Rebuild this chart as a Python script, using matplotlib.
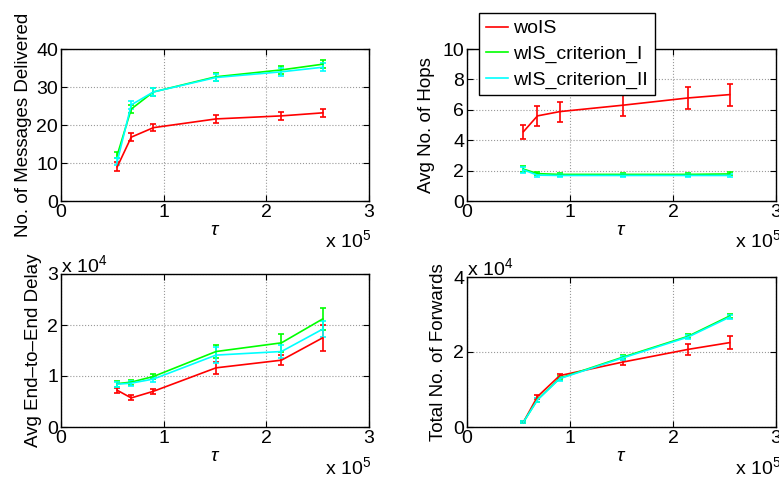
import numpy as np
import matplotlib
matplotlib.use("Agg")
import matplotlib.pyplot as plt

plt.rcParams['font.family'] = ['Liberation Sans', 'DejaVu Sans']
plt.rcParams['mathtext.fontset'] = 'custom'
plt.rcParams['mathtext.rm'] = 'Liberation Sans'
plt.rcParams['mathtext.it'] = 'Liberation Sans:italic'

# tau values (x 1e5)
tau = [0.548, 0.684, 0.90, 1.51, 2.147, 2.55]

series = ['woIS', 'wIS_criterion_I', 'wIS_criterion_II']
colors = ['#ff0000', '#00ff00', '#00ffff']

# No. of messages delivered
msg_red = [9.0, 16.8, 19.3, 21.6, 22.4, 23.2]
msg_red_err = [1.2, 1.0, 1.0, 1.0, 1.0, 1.1]
msg_green = [12.1, 24.2, 28.7, 32.7, 34.5, 36.0]
msg_green_err = [0.9, 1.0, 1.0, 1.0, 1.0, 1.0]
msg_cyan = [10.4, 25.3, 28.7, 32.5, 34.0, 35.2]
msg_cyan_err = [0.9, 1.0, 1.0, 1.0, 1.0, 1.0]

# avg no. of hops
hop_red = [4.56, 5.6, 5.88, 6.3, 6.78, 7.0]
hop_red_err = [0.45, 0.65, 0.65, 0.7, 0.75, 0.72]
hop_green = [2.1, 1.8, 1.75, 1.75, 1.75, 1.78]
hop_green_err = [0.2, 0.1, 0.1, 0.1, 0.1, 0.1]
hop_cyan = [2.05, 1.7, 1.68, 1.68, 1.68, 1.68]
hop_cyan_err = [0.2, 0.1, 0.1, 0.1, 0.1, 0.1]

# avg end-to-end delay (x 1e4)
dly_red = [0.72, 0.57, 0.70, 1.16, 1.31, 1.75]
dly_red_err = [0.05, 0.05, 0.05, 0.12, 0.1, 0.25]
dly_green = [0.85, 0.88, 0.99, 1.48, 1.65, 2.12]
dly_green_err = [0.06, 0.05, 0.05, 0.13, 0.18, 0.22]
dly_cyan = [0.84, 0.86, 0.94, 1.41, 1.48, 1.92]
dly_cyan_err = [0.05, 0.05, 0.05, 0.15, 0.12, 0.15]

# total no. of forwards (x 1e4)
fwd_red = [0.13, 0.81, 1.37, 1.73, 2.07, 2.25]
fwd_red_err = [0.03, 0.05, 0.05, 0.07, 0.15, 0.18]
fwd_green = [0.13, 0.73, 1.30, 1.86, 2.42, 2.96]
fwd_green_err = [0.03, 0.05, 0.05, 0.05, 0.05, 0.05]
fwd_cyan = [0.13, 0.72, 1.29, 1.84, 2.40, 2.93]
fwd_cyan_err = [0.03, 0.05, 0.05, 0.05, 0.05, 0.05]

W, H = 779, 478
fig = plt.figure(figsize=(W / 100, H / 100), dpi=100)


def add_ax(l, t, r, b):
    return fig.add_axes([l / W, 1 - b / H, (r - l) / W, (b - t) / H])


def ptext(x, y, s, **kw):
    # text placed in figure pixels from top-left
    fig.text(x / W, 1 - y / H, s, fontsize=14, **kw)


def style(ax, ymax, yticks, ylabel, labx):
    ax.set_xlim(0, 3)
    ax.set_ylim(0, ymax)
    ax.set_xticks([0, 1, 2, 3])
    ax.set_yticks(yticks)
    ax.tick_params(direction='in', length=4, labelsize=14, pad=2, top=True, right=True)
    ax.grid(True, linestyle=':', color='#999999', linewidth=0.8)
    for s in ax.spines.values():
        s.set_linewidth(1.0)
    ax.set_xlabel(r'$\tau$', fontsize=14, labelpad=1)
    ax.set_ylabel(ylabel, fontsize=13.5)
    ax.yaxis.set_label_coords(labx, 0.5)


def draw(ax, data):
    handles = []
    for (y, e), c, name in zip(data, colors, series):
        h = ax.errorbar(tau, y, yerr=e, color=c, lw=1.2, elinewidth=1.2,
                        capsize=2.5, capthick=1.2, label=name)
        handles.append(h)
    return handles


ax1 = add_ax(61, 49, 369, 201)
draw(ax1, [(msg_red, msg_red_err), (msg_green, msg_green_err), (msg_cyan, msg_cyan_err)])
style(ax1, 40, [0, 10, 20, 30, 40], 'No. of Messages Delivered', -0.094)

ax2 = add_ax(467, 49, 776, 201)
hs = draw(ax2, [(hop_red, hop_red_err), (hop_green, hop_green_err), (hop_cyan, hop_cyan_err)])
style(ax2, 10, [0, 2, 4, 6, 8, 10], 'Avg No. of Hops', -0.104)

ax3 = add_ax(61, 274, 369, 427)
draw(ax3, [(dly_red, dly_red_err), (dly_green, dly_green_err), (dly_cyan, dly_cyan_err)])
style(ax3, 3, [0, 1, 2, 3], 'Avg End\u2013to\u2013End Delay', -0.062)

ax4 = add_ax(467, 277, 776, 427)
draw(ax4, [(fwd_red, fwd_red_err), (fwd_green, fwd_green_err), (fwd_cyan, fwd_cyan_err)])
style(ax4, 4, [0, 2, 4], 'Total No. of Forwards', -0.065)

# MATLAB-style exponent labels
ptext(371, 247, r'x 10$^5$', ha='right', va='baseline')
ptext(781, 247, r'x 10$^5$', ha='right', va='baseline')
ptext(371, 474, r'x 10$^5$', ha='right', va='baseline')
ptext(781, 474, r'x 10$^5$', ha='right', va='baseline')
ptext(61, 272, r'x 10$^4$', ha='left', va='baseline')
ptext(467, 275, r'x 10$^4$', ha='left', va='baseline')

lines = [h[0] for h in hs]
leg = fig.legend(lines, series, loc='upper left', bbox_to_anchor=(479 / W, 1 - 13 / H),
                 fontsize=14, handlelength=1.15, handletextpad=0.25, borderpad=0.35,
                 labelspacing=0.4, fancybox=False, framealpha=1, edgecolor='black', borderaxespad=0)
leg.get_frame().set_linewidth(1.0)

fig.savefig('out.png', dpi=100)
